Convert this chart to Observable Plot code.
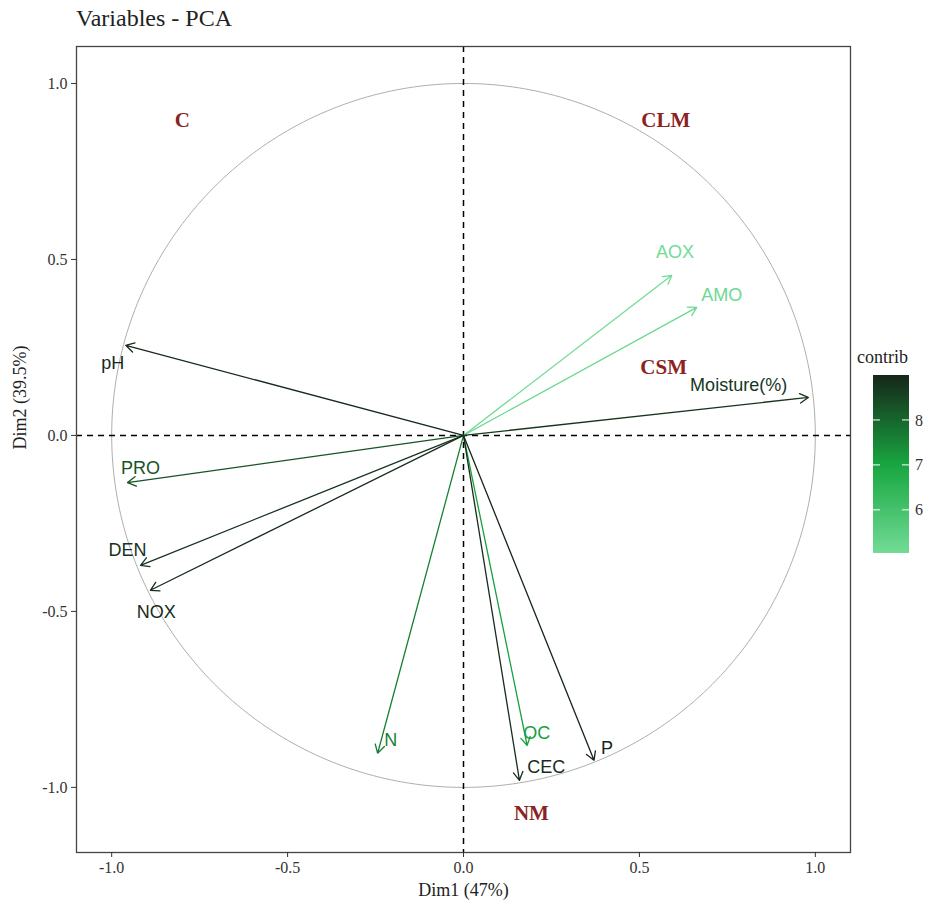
<!DOCTYPE html>
<html>
<head>
<meta charset="utf-8">
<script src="https://cdn.jsdelivr.net/npm/d3@7"></script>
<script src="https://cdn.jsdelivr.net/npm/@observablehq/plot@0.6"></script>
<style>
  html, body { margin: 0; padding: 0; background: #fff; }
  #wrap { position: relative; width: 934px; height: 909px; overflow: hidden; }
  #title { height: 38px; box-sizing: border-box; padding-left: 76px; padding-top: 5px;
           font-family: "Liberation Serif", serif; font-size: 24px; color: #222; line-height: 27px; }
  #legend { position: absolute; left: 845px; top: 335px; }
</style>
</head>
<body>
<div id="wrap">
  <div id="title">Variables - PCA</div>
  <div id="chart"></div>
  <div id="legend"></div>
</div>
<script>
// ---- data ----
const names    = ["AOX", "AMO", "Moisture(%)", "pH", "PRO", "DEN", "NOX", "N", "OC", "CEC", "P"];
const dim1     = [0.592, 0.663, 0.980, -0.960, -0.955, -0.918, -0.890, -0.244, 0.181, 0.159, 0.371];
const dim2     = [0.455, 0.364, 0.108, 0.256, -0.134, -0.369, -0.440, -0.903, -0.881, -0.980, -0.923];
const contrib  = [5.04, 5.15, 8.75, 8.95, 8.3, 8.8, 8.9, 7.6, 7.1, 8.9, 9.0];
const labelDim1 = [0.601, 0.734, 0.782, -0.997, -0.918, -0.955, -0.873, -0.207, 0.208, 0.235, 0.408];
const labelDim2 = [0.520, 0.398, 0.142, 0.205, -0.094, -0.327, -0.503, -0.866, -0.847, -0.943, -0.889];

const groupNames = ["C", "CLM", "CSM", "NM"];
const groupDim1  = [-0.799, 0.575, 0.569, 0.193];
const groupDim2  = [0.895, 0.895, 0.193, -1.074];

const axisTicks = [-1.0, -0.5, 0.0, 0.5, 1.0];
const legendTicks = [6, 7, 8];
const colorStops = [5.04, 7, 9.0];
const colorRange = ["#72db96", "#18a640", "#16261a"];

// ---- build tables ----
const vars = names.map((n, i) => ({name: n, x: dim1[i], y: dim2[i], contrib: contrib[i], lx: labelDim1[i], ly: labelDim2[i]}));
const groups = groupNames.map((g, i) => ({name: g, x: groupDim1[i], y: groupDim2[i]}));
const circle = d3.range(0, 361, 1).map(a => ({x: Math.cos(a * Math.PI / 180), y: Math.sin(a * Math.PI / 180)}));

const serif = "'Liberation Serif', 'Times New Roman', serif";
const sans = "'Liberation Sans', Arial, sans-serif";

const plot = Plot.plot({
  width: 934,
  height: 871,
  marginTop: 8,
  marginBottom: 57,
  marginLeft: 76,
  marginRight: 84,
  x: {domain: [-1.1, 1.1]},
  y: {domain: [-1.185, 1.105]},
  color: {type: "linear", domain: colorStops, range: colorRange, interpolate: "rgb"},
  style: {fontFamily: serif, fontSize: "16px", color: "#333", background: "#fff", overflow: "visible"},
  marks: [
    Plot.line(circle, {x: "x", y: "y", stroke: "#999", strokeWidth: 0.8}),
    Plot.ruleX([0], {stroke: "#000", strokeWidth: 1.5, strokeDasharray: "6,5"}),
    Plot.ruleY([0], {stroke: "#000", strokeWidth: 1.5, strokeDasharray: "6,5"}),
    Plot.arrow(vars, {x1: () => 0, y1: () => 0, x2: "x", y2: "y", stroke: "contrib", strokeWidth: 1.3, headLength: 11, headAngle: 60}),
    Plot.text(vars, {x: "lx", y: "ly", text: "name", fill: "contrib", fontFamily: sans, fontSize: 18}),
    Plot.text(groups, {x: "x", y: "y", text: "name", fill: "#8b2323", fontFamily: serif, fontWeight: "bold", fontSize: 21}),
    Plot.frame({stroke: "#444", strokeWidth: 1.3}),
    Plot.axisX({ticks: axisTicks, tickFormat: d => d.toFixed(1), tickSize: 5, tickPadding: 4, label: null, fontSize: 16, stroke: "#333"}),
    Plot.axisY({ticks: axisTicks, tickFormat: d => d.toFixed(1), tickSize: 5, tickPadding: 4, label: null, fontSize: 16, stroke: "#333"}),
    Plot.text(["Dim1 (47%)"], {frameAnchor: "bottom", dy: 43, fontSize: 18, fontFamily: serif, fill: "#222"}),
    Plot.text(["Dim2 (39.5%)"], {frameAnchor: "left", dx: -56, rotate: -90, fontSize: 18, fontFamily: serif, fill: "#222"})
  ]
});
document.getElementById("chart").appendChild(plot);

// ---- legend (colour bar) ----
const lw = 89, lh = 230;
const barX = 28, barW = 36, barTop = 40, barBottom = 218;
const ly = d3.scaleLinear().domain([colorStops[0], colorStops[2]]).range([barBottom, barTop]);
const lc = d3.scaleLinear().domain(colorStops).range(colorRange).interpolate(d3.interpolateRgb);
const svg = d3.select("#legend").append("svg").attr("width", lw).attr("height", lh);
const grad = svg.append("defs").append("linearGradient").attr("id", "cg")
  .attr("x1", 0).attr("y1", 1).attr("x2", 0).attr("y2", 0);
d3.range(0, 1.0001, 0.05).forEach(t => {
  const v = colorStops[0] + t * (colorStops[2] - colorStops[0]);
  grad.append("stop").attr("offset", t).attr("stop-color", lc(v));
});
svg.append("rect").attr("x", barX).attr("y", barTop).attr("width", barW).attr("height", barBottom - barTop).attr("fill", "url(#cg)");
legendTicks.forEach(t => {
  const y = ly(t);
  svg.append("line").attr("x1", barX).attr("x2", barX + 7).attr("y1", y).attr("y2", y).attr("stroke", "#fff").attr("stroke-width", 1);
  svg.append("line").attr("x1", barX + barW - 7).attr("x2", barX + barW).attr("y1", y).attr("y2", y).attr("stroke", "#fff").attr("stroke-width", 1);
  svg.append("text").attr("x", barX + barW + 6).attr("y", y).attr("dy", "0.35em")
    .attr("font-family", serif).attr("font-size", 16).attr("fill", "#333").text(t);
});
svg.append("text").attr("x", 12).attr("y", 28).attr("font-family", serif).attr("font-size", 18).attr("fill", "#222").text("contrib");
</script>
</body>
</html>
